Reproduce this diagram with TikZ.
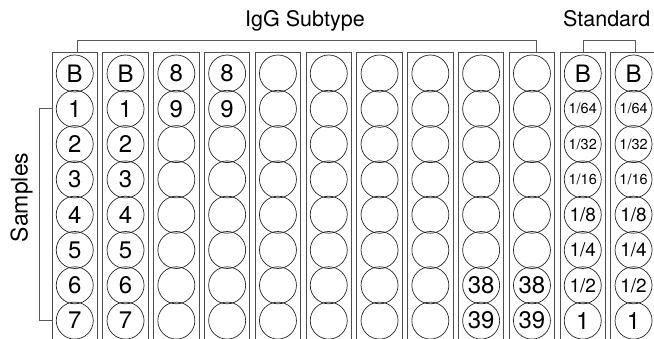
\documentclass[tikz,border=0pt]{standalone}
\usepackage{fontspec}
\setmainfont{TeX Gyre Heros}
\begin{document}
\begin{tikzpicture}[x=1pt,y=-1pt,
  stripbox/.style={draw=black!70,line width=0.9pt},
  well/.style={circle,draw=black!85,line width=0.7pt,minimum size=37pt,inner sep=0pt,font=\fontsize{24}{24}\selectfont},
  smallwell/.style={well,font=\fontsize{14.5}{15}\selectfont},
  midwell/.style={well,font=\fontsize{19}{19}\selectfont},
  bracket/.style={draw=black!65,line width=0.9pt},
  titletext/.style={anchor=base,inner sep=0pt,font=\fontsize{21.5}{22}\selectfont}]
\useasboundingbox (0,0) rectangle (654,339);
\clip (0,0) rectangle (654,339);
% strips
\foreach \i in {0,...,11}
  \draw[stripbox] ({52+50.8*\i},52) rectangle ++(45.5,300);
% wells
\foreach \i in {0,1}
  \foreach \t [count=\j from 0] in {B,1,2,3,4,5,6,7}
    \node[well] (w\i-\j) at ({74.75+50.8*\i},{73.5+35.3*\j}) {\t};
\foreach \i in {2,3}{
  \foreach \t [count=\j from 0] in {8,9}
    \node[well] (w\i-\j) at ({74.75+50.8*\i},{73.5+35.3*\j}) {\t};
  \foreach \j in {2,...,7}
    \node[well] (w\i-\j) at ({74.75+50.8*\i},{73.5+35.3*\j}) {};
}
\foreach \i in {4,...,7}
  \foreach \j in {0,...,7}
    \node[well] (w\i-\j) at ({74.75+50.8*\i},{73.5+35.3*\j}) {};
\foreach \i in {8,9}{
  \foreach \j in {0,...,5}
    \node[well] (w\i-\j) at ({74.75+50.8*\i},{73.5+35.3*\j}) {};
  \foreach \t [count=\j from 6] in {38,39}
    \node[well] (w\i-\j) at ({74.75+50.8*\i},{73.5+35.3*\j}) {\t};
}
\foreach \i in {10,11}{
  \node[well] (w\i-0) at ({74.75+50.8*\i},73.5) {B};
  \foreach \t [count=\j from 1] in {1/64,1/32,1/16}
    \node[smallwell] (w\i-\j) at ({74.75+50.8*\i},{73.5+35.3*\j}) {\t};
  \foreach \t [count=\j from 4] in {1/8,1/4,1/2}
    \node[midwell] (w\i-\j) at ({74.75+50.8*\i},{73.5+35.3*\j}) {\t};
  \node[well] (w\i-7) at ({74.75+50.8*\i},{73.5+35.3*7}) {1};
}
% titles
\node[titletext] (igg) at (305,27) {IgG Subtype};
\node[titletext] (std) at (606.7,27) {Standard};
\node[titletext,rotate=90,font=\fontsize{23}{23}\selectfont] (samp) at (27.5,197.5) {Samples};
% brackets
\coordinate (igA) at (77,52); \coordinate (igB) at (77,40);
\coordinate (igC) at (536.7,40); \coordinate (igD) at (536.7,52);
\draw[bracket] (igA) -- (igB) -- (igC) -- (igD);
\coordinate (stA) at (583,52); \coordinate (stB) at (583,40);
\coordinate (stC) at (635.7,40); \coordinate (stD) at (635.7,52);
\draw[bracket] (stA) -- (stB) -- (stC) -- (stD);
\coordinate (saA) at (52,108.8); \coordinate (saB) at (39.5,108.8);
\coordinate (saC) at (39.5,320.6); \coordinate (saD) at (52,320.6);
\draw[bracket] (saA) -- (saB) -- (saC) -- (saD);
\end{tikzpicture}
\end{document}
